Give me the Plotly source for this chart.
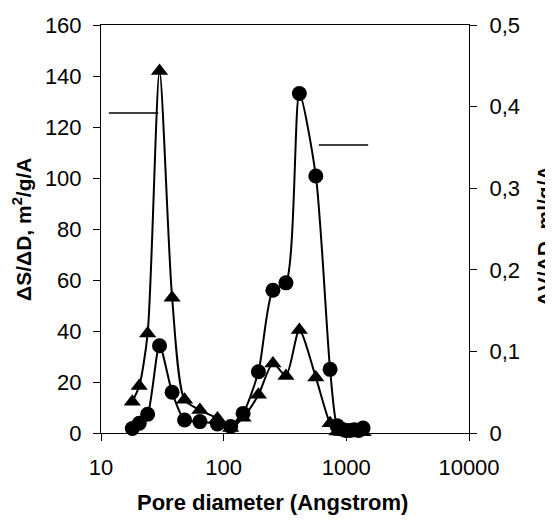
import plotly.graph_objects as go

# Pore diameter (Angstrom)
diameter = [18, 20.5, 24, 30, 38, 48, 64, 89, 114, 144, 192, 252, 322, 414, 564, 737,
            840, 910, 990, 1070, 1160, 1260, 1370]
# dS/dD, m2/g/A (triangles, left axis)
dS_dD = [12.3, 18.4, 39, 142, 53, 13, 9, 5.7, 2, 6, 15, 27.3, 22.4, 40.4, 21.8, 3.8,
         0.6, 0.4, 0.3, 0.2, 0.2, 0.3, 0.3]
# dV/dD, ml/g/A (circles, right axis)
dV_dD = [0.0056, 0.012, 0.023, 0.107, 0.050, 0.016, 0.014, 0.011, 0.008, 0.024, 0.075,
         0.175, 0.184, 0.416, 0.315, 0.078, 0.009, 0.005, 0.003, 0.003, 0.004, 0.003, 0.006]

# indicator lines pointing to the relevant axis
left_marker_x = [11.6, 29.3]
left_marker_y = [125.5, 125.5]
right_marker_x = [597, 1507]
right_marker_y = [0.353, 0.353]

major_ticks = [10, 100, 1000, 10000]
major_labels = ["10", "100", "1000", "10000"]
minor_ticks = [m * d for d in (10, 100, 1000) for m in range(2, 10)]
left_ticks = [0, 20, 40, 60, 80, 100, 120, 140, 160]
right_ticks = [0, 0.1, 0.2, 0.3, 0.4, 0.5]
right_labels = ["0", "0,1", "0,2", "0,3", "0,4", "0,5"]

FONT = "Arial, Liberation Sans, sans-serif"
fig = go.Figure()

fig.add_trace(go.Scatter(
    x=diameter, y=dS_dD, mode="lines+markers", yaxis="y",
    line=dict(color="black", width=2, shape="spline", smoothing=0.7),
    marker=dict(symbol="triangle-up", size=15, color="black"),
    cliponaxis=False, showlegend=False))
fig.add_trace(go.Scatter(
    x=diameter, y=dV_dD, mode="lines+markers", yaxis="y2",
    line=dict(color="black", width=2, shape="spline", smoothing=0.7),
    marker=dict(symbol="circle", size=15, color="black"),
    cliponaxis=False, showlegend=False))
fig.add_trace(go.Scatter(
    x=left_marker_x, y=left_marker_y, mode="lines", yaxis="y",
    line=dict(color="black", width=1.5), showlegend=False))
fig.add_trace(go.Scatter(
    x=right_marker_x, y=right_marker_y, mode="lines", yaxis="y2",
    line=dict(color="black", width=1.5), showlegend=False))

fig.update_layout(
    width=545, height=514,
    margin=dict(l=93, r=84, t=17, b=89, autoexpand=False),
    paper_bgcolor="white", plot_bgcolor="white",
    font=dict(family=FONT, size=22, color="black"),
    xaxis=dict(type="log", range=[1, 4], tickvals=major_ticks, ticktext=major_labels,
               tickangle=0,
               ticks="outside", ticklen=7, tickwidth=1, tickcolor="black",
               showline=True, linecolor="black", linewidth=1, mirror=True,
               showgrid=False, zeroline=False, ticklabelstandoff=8,
               anchor="y"),
    xaxis2=dict(type="log", range=[1, 4], overlaying="x", anchor="y",
                tickvals=sorted(major_ticks + minor_ticks), ticks="outside",
                ticklen=7, tickwidth=1, tickcolor="black", showticklabels=False,
                showgrid=False, showline=False, zeroline=False),
    xaxis3=dict(type="log", range=[1, 4], overlaying="x", anchor="y",
                tickvals=sorted(major_ticks + minor_ticks), ticks="inside",
                ticklen=7, tickwidth=1, tickcolor="black", showticklabels=False,
                showgrid=False, showline=False, zeroline=False),
    yaxis=dict(range=[0, 160], tickvals=left_ticks, ticks="outside", ticklen=7,
               tickwidth=1, tickcolor="black", showline=True, linecolor="black",
               linewidth=1, showgrid=False, zeroline=False, ticklabelstandoff=7,
               anchor="x"),
    yaxis2=dict(range=[0, 0.5], tickvals=right_ticks, ticktext=right_labels,
                overlaying="y", side="right", anchor="x",
                ticks="outside", ticklen=7, tickwidth=1, tickcolor="black",
                showline=True, linecolor="black", linewidth=1, showgrid=False,
                zeroline=False, ticklabelstandoff=8),
    yaxis3=dict(range=[0, 0.5], tickvals=right_ticks, overlaying="y", side="right",
                anchor="x", ticks="inside", ticklen=7, tickwidth=1, tickcolor="black",
                showticklabels=False, showgrid=False, showline=False, zeroline=False),
    annotations=[
        dict(text="<b>Pore diameter (Angstrom)</b>", xref="paper", yref="paper",
             x=0.466, y=-0.17, xanchor="center", yanchor="middle", showarrow=False,
             font=dict(size=22)),
        dict(text="<b>ΔS/ΔD, m<sup>2</sup>/g/A</b>", xref="paper", yref="paper",
             x=-0.215, y=0.5, xanchor="center", yanchor="middle", textangle=-90,
             showarrow=False, font=dict(size=21)),
        dict(text="<b>ΔV/ΔD, ml/g/A</b>", xref="paper", yref="paper",
             x=1.205, y=0.483, xanchor="center", yanchor="middle", textangle=-90,
             showarrow=False, font=dict(size=21)),
    ],
)

fig.write_html("out.html")
